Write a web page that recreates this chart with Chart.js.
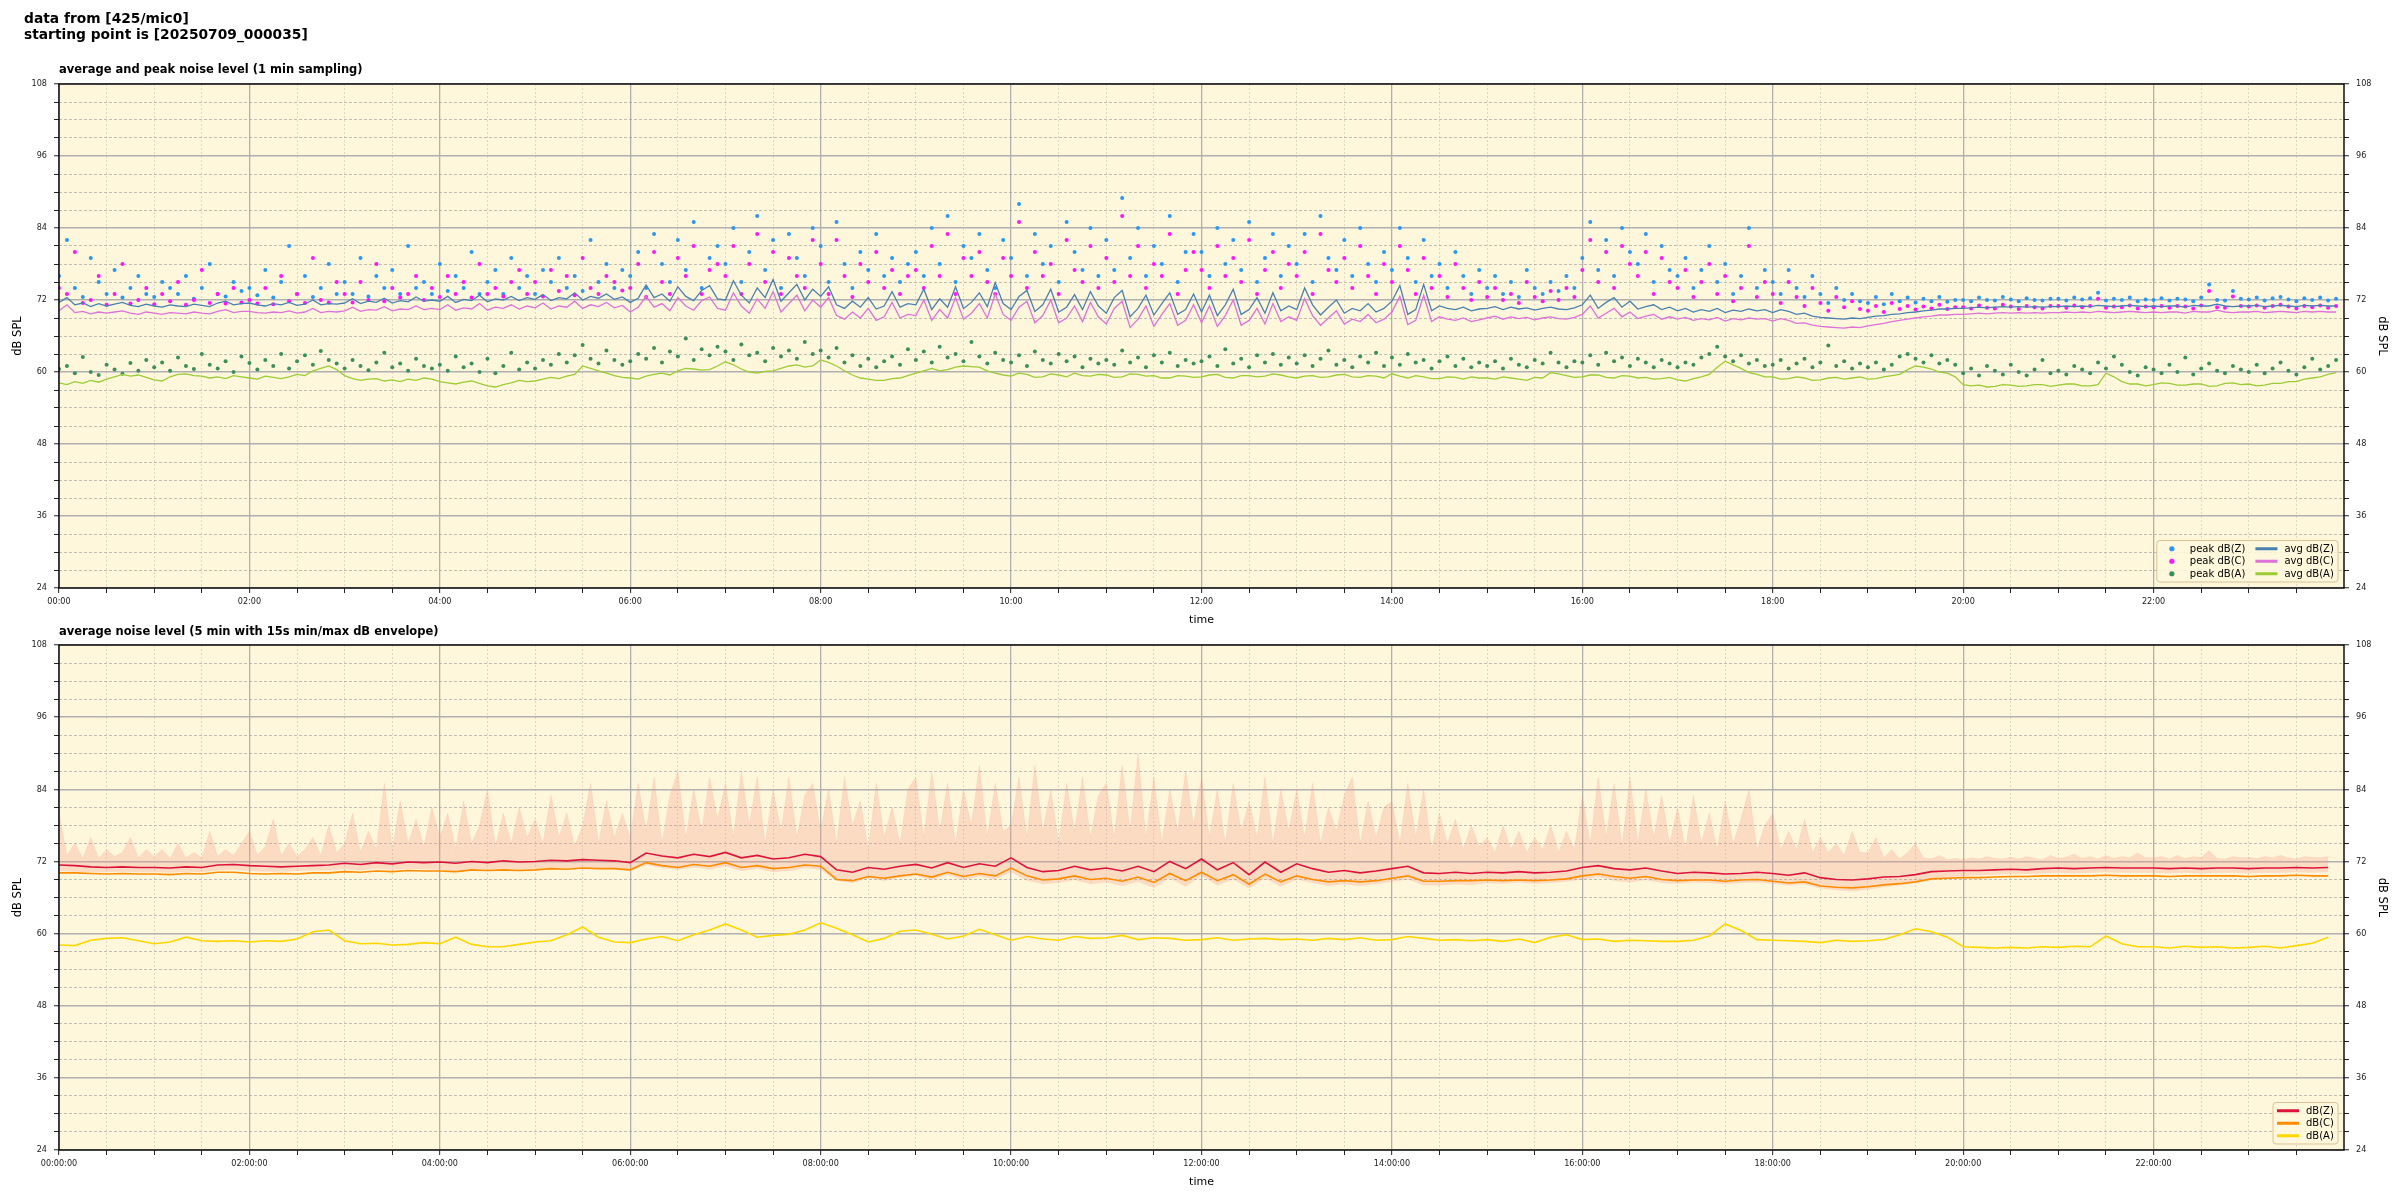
<!DOCTYPE html>
<html>
<head>
<meta charset="utf-8">
<script src="https://cdn.jsdelivr.net/npm/chart.js@4.4.1/dist/chart.umd.min.js"></script>
<style>
  body { margin: 0; width: 2400px; height: 1200px; background: #fff; position: relative; overflow: hidden; font-family: "DejaVu Sans", sans-serif; }
  .hdr { position: absolute; left: 24px; top: 10px; font-weight: bold; font-size: 13.8px; line-height: 16px; color: #000; }
  .ttl { position: absolute; left: 59px; font-weight: bold; font-size: 11.5px; color: #000; }
  .box { position: absolute; left: 0; width: 2400px; }
</style>
</head>
<body>
<div class="box" style="top:0;height:630px"><canvas id="top-chart"></canvas></div>
<div class="box" style="top:630px;height:562px"><canvas id="bottom-chart"></canvas></div>
<div class="hdr">data from [425/mic0]<br>starting point is [20250709_000035]</div>
<div class="ttl" style="top:62px">average and peak noise level (1 min sampling)</div>
<div class="ttl" style="top:624px">average noise level (5 min with 15s min/max dB envelope)</div>
<script>
// ---- data (one row = one hour) ----
// top panel, avg levels every 5 min
var avg_z = [
  71.6,72.4,71.2,71.5,70.9,71.4,71.0,71.3,71.6,71.1,70.9,71.3,
  71.0,70.8,71.2,71.0,70.9,71.3,71.1,70.9,71.5,71.8,71.2,71.4,
  71.5,71.2,71.0,71.4,71.2,71.6,71.1,71.3,72.0,71.2,71.4,71.3,
  71.5,72.2,71.4,71.8,71.6,72.3,71.5,71.9,71.7,72.5,71.8,72.0,
  71.8,72.6,71.6,72.1,71.9,72.8,71.7,72.2,72.0,72.6,71.9,72.4,
  72.1,72.9,71.9,72.4,72.2,73.2,72.0,72.6,72.3,73.0,72.1,72.5,
  71.6,72.3,74.5,72.4,73.0,71.8,74.2,72.6,71.9,73.6,74.4,72.2,
  72.0,75.2,72.8,71.5,74.0,72.4,75.4,71.8,73.2,74.6,72.0,73.8,
  72.6,74.2,71.2,70.6,71.8,70.8,72.4,70.5,71.0,73.4,70.8,71.4,
  71.2,73.8,70.4,72.2,70.8,74.2,70.6,71.6,73.2,70.9,74.9,71.4,
  70.4,72.6,73.6,70.1,71.2,73.8,70.0,70.8,72.9,70.4,73.4,71.0,
  69.8,72.4,73.6,69.2,70.6,72.8,69.5,71.4,73.2,69.6,70.4,73.0,
  70.0,72.8,69.4,71.2,73.8,69.6,70.4,72.4,69.8,73.2,70.2,71.0,
  70.4,74.0,71.2,69.5,70.8,72.0,69.8,70.6,70.2,71.4,70.0,70.6,
  71.8,74.4,69.6,70.4,74.6,70.2,71.0,70.6,70.4,70.8,70.2,70.5,
  70.6,70.9,70.4,70.8,70.5,70.7,70.3,70.6,70.8,70.5,70.4,70.7,
  71.2,72.8,70.6,71.6,72.4,70.8,71.8,70.5,70.9,71.2,70.4,70.8,
  70.2,70.6,70.0,70.4,70.1,70.6,69.9,70.3,70.1,70.5,70.2,70.4,
  69.9,70.4,70.1,69.6,69.8,69.3,69.1,69.0,68.9,68.8,69.0,68.9,
  69.1,69.3,69.4,69.6,69.7,69.9,70.0,70.2,70.3,70.5,70.5,70.6,
  70.6,70.7,70.8,70.7,70.8,70.9,70.8,70.9,70.8,70.9,70.8,70.9,
  70.9,71.0,70.9,71.0,70.9,71.1,71.0,70.9,71.0,71.1,71.0,70.9,
  71.0,70.9,71.0,71.0,70.8,71.1,71.0,71.0,71.3,71.0,70.9,71.0,
  71.0,71.1,70.9,71.0,71.1,71.0,70.9,71.1,71.0,71.1,71.0,71.0
];
var avg_c = [
  70.2,71.2,69.9,70.1,69.7,70.0,69.8,70.0,70.2,69.8,69.6,70.0,
  69.8,69.6,69.9,69.8,69.7,70.0,69.8,69.7,70.1,70.4,69.9,70.1,
  70.1,69.9,69.8,70.0,69.9,70.2,69.8,70.0,70.6,69.9,70.1,70.0,
  70.2,70.8,70.1,70.4,70.3,70.9,70.2,70.5,70.4,71.0,70.4,70.6,
  70.4,71.2,70.3,70.7,70.5,71.4,70.3,70.8,70.6,71.2,70.5,71.0,
  70.7,71.5,70.5,71.0,70.8,71.8,70.6,71.2,70.9,71.6,70.7,71.1,
  70.0,70.8,72.6,70.8,71.4,70.2,72.4,71.0,70.3,71.9,72.5,70.6,
  70.3,73.2,71.0,69.8,72.2,70.6,73.4,70.0,71.4,72.8,70.2,72.0,
  70.8,72.4,69.4,68.8,70.0,69.0,70.6,68.6,69.2,71.6,69.0,69.6,
  69.4,72.0,68.6,70.4,69.0,72.4,68.8,69.8,71.4,69.0,73.0,69.6,
  68.6,70.8,71.8,68.2,69.4,72.0,68.2,69.0,71.0,68.4,71.6,69.2,
  68.0,70.6,71.8,67.4,68.8,71.0,67.6,69.6,71.4,67.8,68.6,71.2,
  68.2,71.0,67.6,69.4,72.0,67.8,68.6,70.6,68.0,71.4,68.4,69.2,
  68.6,72.2,69.4,67.8,69.0,70.2,68.0,68.8,68.4,69.6,68.2,68.8,
  70.0,72.6,67.9,68.6,72.8,68.4,69.2,68.8,68.6,69.0,68.4,68.7,
  69.0,69.3,68.8,69.2,68.9,69.1,68.7,69.0,69.2,68.9,68.8,69.1,
  69.6,71.0,69.0,69.8,70.6,69.2,70.0,68.9,69.3,69.6,68.8,69.2,
  68.8,69.1,68.6,68.9,68.7,69.1,68.5,68.9,68.7,69.0,68.8,68.9,
  68.5,68.9,68.6,68.1,68.2,67.8,67.6,67.5,67.4,67.3,67.5,67.4,
  67.7,67.9,68.1,68.4,68.6,68.8,69.0,69.2,69.3,69.5,69.5,69.6,
  69.6,69.7,69.8,69.7,69.8,69.9,69.8,69.9,69.8,69.9,69.8,69.9,
  69.9,70.0,69.9,70.0,69.9,70.1,70.0,69.9,70.0,70.1,70.0,69.9,
  70.0,69.9,70.0,70.0,69.8,70.1,70.0,70.0,70.3,70.0,69.9,70.0,
  70.0,70.1,69.9,70.0,70.1,70.0,69.9,70.1,70.0,70.1,70.0,70.0
];
var avg_a = [
  58.2,57.9,58.4,58.1,58.6,58.3,58.8,59.2,59.6,59.3,59.5,59.1,
  58.7,58.5,59.2,59.6,59.7,59.4,59.3,59.0,59.2,58.9,59.4,59.2,
  59.0,58.8,59.3,59.1,58.9,59.2,59.6,59.4,60.2,60.6,61.0,60.4,
  59.4,58.9,58.6,58.8,58.9,58.5,58.7,58.4,58.8,58.6,59.0,58.8,
  58.4,58.2,58.0,58.3,58.5,58.1,57.7,57.5,57.9,58.2,58.6,58.4,
  58.5,58.8,59.1,58.9,59.3,59.6,61.0,60.6,60.2,59.8,59.4,59.1,
  59.0,58.8,59.3,59.6,59.8,59.5,60.2,60.6,60.5,60.3,60.4,61.0,
  61.7,61.2,60.5,60.0,59.8,60.1,60.2,60.6,61.0,61.2,60.8,61.0,
  62.0,61.6,61.0,60.2,59.5,59.0,58.8,58.6,58.6,58.9,59.0,59.4,
  59.8,60.2,60.6,60.2,60.4,60.8,61.0,60.9,60.8,60.2,59.8,59.5,
  59.3,59.8,59.6,59.1,59.2,59.7,59.5,59.2,59.8,59.4,59.3,59.6,
  59.5,59.1,59.2,59.7,59.6,59.3,59.4,59.0,59.0,59.4,59.3,59.1,
  59.2,59.5,59.6,59.1,59.0,59.4,59.4,59.2,59.3,59.7,59.5,59.2,
  59.0,59.3,59.4,59.1,59.2,59.5,59.6,59.2,59.1,59.4,59.3,59.0,
  59.7,59.3,59.0,59.4,59.2,58.9,58.9,59.2,59.1,58.8,59.2,59.0,
  59.0,58.8,59.2,59.0,58.8,58.6,59.1,59.0,59.9,59.7,59.4,59.1,
  59.2,59.5,59.5,59.1,59.0,59.4,59.3,59.0,59.1,58.8,58.9,59.1,
  58.7,58.5,58.9,59.2,59.6,60.8,61.8,61.2,60.6,59.9,59.6,59.2,
  59.2,58.8,58.9,59.2,59.0,58.6,58.7,59.0,59.1,58.8,59.0,59.2,
  58.8,58.9,59.2,59.4,59.6,60.4,61.0,60.8,60.5,60.0,59.8,59.2,
  57.9,57.7,57.8,57.5,57.6,57.9,57.8,57.6,57.7,57.9,57.9,57.6,
  57.8,58.0,58.0,57.7,57.7,57.9,59.8,59.2,58.4,58.0,58.0,57.7,
  57.9,58.2,58.1,57.8,57.8,58.0,58.0,57.6,57.7,58.1,58.2,57.9,
  58.0,57.7,57.8,58.1,58.1,58.4,58.4,58.8,59.0,59.2,59.6,59.9
];
// top panel, peak levels every 5 min
var peak_z = [
  76,82,74,72.5,79,75,73,77,72.4,74,76,73,  72.5,75,74,73,76,72.2,74,78,73,72.6,75,73.5,
  74,72.8,77,72.4,75,81,73,76,72.5,74,78,73, 75,73,79,72.6,76,74,77,73,81,74,75,73,
  78,73.5,76,74,80,73,75,77,73,79,74,76,     73,77,75,79,74,76,73.5,82,75,78,74,77,
  76,80,74,83,78,75,82,77,85,74,79,81,       78,84,75,80,86,77,82,74,83,79,76,84,
  81,75,85,78,74,80,77,83,76,79,75,78,       80,76,84,78,86,75,81,79,83,77,74,82,
  79,88,76,83,78,81,75,85,80,77,84,76,       82,77,89,79,84,76,81,78,86,75,80,83,
  80,76,84,78,82,77,85,75,79,83,76,81,       78,83,75,86,79,77,82,76,84,78,75,80,
  77,84,79,75,82,76,78,74,80,76,73,77,       74,76,73,75,72.5,77,74,73,75,73.5,76,74,
  79,85,77,82,76,84,80,78,83,75,81,77,       76,79,74,77,81,75,78,73,76,84,74,77,
  75,73,77,74,72.5,76,73,71.5,74,72,73,71.8, 71.5,72.5,71.3,73,71.8,72.4,71.6,72.2,71.8,72.5,71.7,72,
  72,71.8,72.4,72,71.9,72.5,72.1,71.8,72.3,72,71.9,72.2, 72.2,71.9,72.4,72.1,72.3,73.2,71.9,72.2,72,72.4,71.8,72.1,
  72,72.3,71.9,72.2,72.1,71.8,72.4,74.6,72,71.9,73.5,72.2, 72.1,72.4,71.9,72.3,72.5,72.1,71.8,72.3,72,72.4,71.9,72.2
];
var peak_c = [
  74,73,80,71.5,72,76,71.2,73,78,71.4,72,74,  71.3,73,71.8,75,71.2,72,77,71.5,73,71.4,74,71.6,
  72,71.4,74,71.3,76,71.8,73,71.5,79,72,71.6,75, 73,71.6,75,72,78,71.8,74,72.4,73,76,72,74,
  72.5,76,73,75,72.4,78,73,74,72.6,75,77,73, 75,72.6,77,73.5,76,72.8,79,74,73,76,75,73.6,
  74,78,72.5,80,75,73,79,76,81,73,77,78,     76,81,73,78,83,75,80,73,79,76,74,82,
  78,73,82,76,72.5,78,75,80,74,77,73,76,     77,74,81,76,83,73,79,76,80,75,73,79,
  76,85,74,80,76,78,73,82,77,75,81,74,       79,75,86,76,81,74,78,76,83,73,77,80,
  77,74,81,76,79,75,82,73,77,80,74,78,       76,80,73,83,77,75,79,74,81,76,73,78,
  75,81,77,73,79,74,76,72.5,78,74,72,75,     72.5,74,72,73,71.5,75,72.5,71.8,73.5,72,74,72.5,
  77,82,75,80,74,81,78,76,80,73,79,75,       74,77,72.5,75,78,73,76,71.8,74,81,72.5,75,
  73,71.5,75,72.5,71,74,71.5,70.2,72.5,70.8,71.8,70.5, 70.2,71,70,71.5,70.5,71,70.4,70.9,70.6,71.2,70.5,70.8,
  70.8,70.6,71.1,70.7,70.6,71.2,70.9,70.5,71,70.8,70.6,71, 71,70.7,71.1,70.8,71,72.2,70.7,70.9,70.8,71.1,70.6,70.9,
  70.8,71,70.7,71,70.9,70.6,71.1,73.5,70.8,70.7,72.6,71, 70.9,71.1,70.7,71,71.2,70.9,70.6,71,70.8,71.1,70.7,71
];
var peak_a = [
  60.5,61,59.8,62.5,60,59.5,61.2,60.4,59.7,61.5,60.2,62, 60.8,61.6,60.2,62.4,61,60.5,63,61.2,60.6,61.8,60,62.6,
  61.5,60.4,62,61,63,60.6,61.8,62.8,61.2,63.5,62,61.4,   60.6,62,61,60.3,61.6,63.2,60.8,61.4,60.2,62.2,61,60.6,
  61.2,60.2,62.6,60.8,61.4,60,62.2,59.8,61,63.2,60.4,61.6, 60.6,62,61.2,63,61.6,62.8,64.5,62.2,61.4,63.6,62,61.2,
  61.8,63,62.2,64,61.6,63.4,62.6,65.6,62,63.8,62.8,64.2, 63.4,62,64.6,62.8,63.2,61.8,64,62.6,63.6,62.2,65,63,
  63.6,62.4,64,61.6,62.8,61,62.2,60.8,61.8,62.6,61.2,63.8, 62,63.4,61.6,64.2,62.4,63,61.8,65,62.6,61.4,63.2,62,
  61.6,62.8,61,63.4,62,61.4,63,61.8,62.6,60.8,62.2,61.4, 62,61.2,63.6,61.6,62.4,60.8,62.8,61.6,63.2,61,62,61.4,
  61.8,62.6,61,63.8,61.4,62.2,60.8,62.8,61.6,63,61.2,62.4, 61.4,62.8,61,62.2,63.6,61.2,62,60.8,62.6,61.6,63.2,61,
  62.4,61.2,63,61.6,62,60.6,61.8,62.6,61,62.2,60.8,61.6, 61,61.8,60.6,62.2,61.2,60.8,62,61.4,63.2,61.6,60.8,61.8,
  61.6,62.8,61.2,63.2,61.8,62.4,61,62.2,61.6,60.8,62,61.4, 60.8,61.6,61.2,62.4,63,64.2,62.6,61.8,62.8,61.4,62,61,
  61.2,62,60.6,61.4,62.2,60.8,61.6,64.4,61,61.8,60.6,61.4, 60.8,61.6,60.4,61.2,62.6,63,62.2,61.6,62.8,61.4,62,61.2,
  59.8,60.6,59.4,61,60.2,59.6,61.2,60,59.4,60.4,62,59.8, 60.2,59.6,61,60.4,59.8,61.6,60.6,62.6,61.2,60,59.4,60.8,
  60.4,59.8,61.2,60,62.4,59.6,60.6,61.4,60.2,59.8,61,60.4, 60,61.2,59.8,60.6,61.6,60.2,59.6,60.8,62.2,60.4,61,62
];
// bottom panel, 5 min averages sampled every 10 min
var lvl_z = [
  71.4,71.3,71.1,71.0,71.1,71.0, 71.0,70.9,71.1,71.0,71.4,71.5, 71.3,71.2,71.1,71.2,71.3,71.4,
  71.7,71.5,71.8,71.6,71.9,71.8, 71.9,71.7,72.0,71.8,72.1,71.9, 72.0,72.2,72.1,72.3,72.2,72.1,
  71.8,73.4,72.9,72.6,73.2,72.8, 73.5,72.6,73.0,72.4,72.6,73.2, 72.8,70.6,70.2,71.0,70.7,71.2,
  71.5,70.9,71.8,71.0,71.6,71.2, 72.6,71.0,70.3,70.5,71.2,70.6, 70.9,70.4,71.2,70.3,72.0,70.8,
  72.4,70.6,71.8,69.8,71.9,70.2, 71.6,70.8,70.2,70.5,70.1,70.4, 70.8,71.2,70.1,70.0,70.2,70.0,
  70.2,70.1,70.3,70.1,70.2,70.4, 71.0,71.3,70.8,70.6,70.9,70.4, 70.0,70.2,70.1,69.9,70.0,70.2,
  70.0,69.7,70.1,69.3,69.0,68.9, 69.1,69.4,69.5,69.8,70.3,70.4, 70.5,70.5,70.6,70.7,70.6,70.8,
  70.9,70.8,70.9,71.0,70.9,70.9, 70.9,70.8,70.9,70.8,70.9,70.9, 70.8,70.9,70.9,71.0,70.9,71.0
];
var lvl_c = [
  70.1,70.1,70.0,69.9,70.0,69.9, 69.9,69.8,70.0,69.9,70.2,70.2, 70.0,69.9,70.0,69.9,70.1,70.1,
  70.3,70.2,70.4,70.3,70.5,70.4, 70.4,70.3,70.6,70.5,70.6,70.5, 70.6,70.8,70.7,70.9,70.8,70.8,
  70.6,71.8,71.3,71.0,71.5,71.2, 71.8,71.0,71.3,70.8,71.0,71.4, 71.2,69.0,68.8,69.5,69.2,69.6,
  69.9,69.4,70.2,69.5,70.0,69.6, 70.9,69.6,68.9,69.1,69.6,69.0, 69.2,68.7,69.4,68.5,70.0,68.8,
  70.2,68.8,69.8,68.2,69.9,68.6, 69.6,69.0,68.6,68.8,68.6,68.8, 69.2,69.6,68.7,68.7,68.8,68.8,
  68.9,68.8,68.9,68.8,68.9,69.1, 69.6,69.9,69.5,69.2,69.5,69.0, 68.8,68.9,68.9,68.7,68.9,69.0,
  68.7,68.4,68.6,67.9,67.7,67.6, 67.8,68.1,68.3,68.6,69.1,69.2, 69.3,69.3,69.4,69.5,69.5,69.6,
  69.6,69.6,69.6,69.7,69.6,69.6, 69.6,69.5,69.6,69.6,69.6,69.6, 69.5,69.6,69.6,69.7,69.6,69.6
];
var lvl_a = [
  58.1,58.0,58.9,59.2,59.3,58.8, 58.3,58.6,59.4,58.8,58.7,58.8, 58.6,58.8,58.7,59.1,60.3,60.6,
  58.8,58.3,58.4,58.1,58.2,58.5, 58.3,59.4,58.2,57.8,57.8,58.2, 58.6,58.8,59.8,61.1,59.4,58.6,
  58.5,59.1,59.5,58.8,59.8,60.6, 61.6,60.6,59.4,59.7,59.9,60.6, 61.8,60.9,59.8,58.6,59.2,60.4,
  60.6,59.9,59.1,59.6,60.7,59.8, 58.9,59.5,59.1,58.9,59.5,59.2, 59.3,59.7,59.0,59.3,59.2,58.9,
  59.0,59.3,58.9,59.1,59.2,59.0, 59.1,58.9,59.2,59.0,59.3,58.9, 59.0,59.5,59.2,58.9,59.0,58.8,
  59.0,58.7,59.1,58.5,59.4,59.8, 59.0,59.1,58.7,58.9,58.8,58.7, 58.7,58.9,59.6,61.6,60.5,59.0,
  58.9,58.8,58.7,58.5,58.9,58.7, 58.8,59.0,59.8,60.8,60.3,59.4, 57.8,57.7,57.6,57.7,57.6,57.8,
  57.7,57.9,57.8,59.6,58.3,57.8, 57.8,57.6,57.9,57.7,57.8,57.6, 57.7,57.9,57.6,58.0,58.4,59.4
];
// 15 s min/max envelope: max every 5 min, min every 10 min
var env_max = [
  80,73,75,72.5,76,72.5,74,72.8,73.5,76,72.6,74, 72.8,74,72.5,75,72.6,73.5,72.6,77,72.8,74,73,75,
  77,73,74.5,79,73,75,72.8,74,76,73,78,73.5,   75,80,73.5,77,74,85,74,82,75,79,74.5,81,
  76,80,74,82,75,78,84,74.5,80,75,81,76,       79,75,83,76,80,74.5,78,85,75,82,76,80,
  76,85,77,86,75,83,87,76,84,77,86,79,         85,76,87,78,86,75,84,77,86,76,83,85,
  77,84,75,86,78,82,74,85,76,81,75,84,         86,76,87,77,85,75,84,78,88,76,85,77,
  78,86,76,88,77,84,75,85,77,86,76,83,         85,76,88,77,90,76,86,75,84,77,87,78,
  86,76,84,75,85,77,82,76,86,75,84,77,         84,76,85,75,81,77,83,86,75,82,76,81,
  82,75,85,76,84,74,80,75,79,74,78,74.5,       76,73.5,78,74,77,73.5,76,74,78,73.5,77,74,
  83,75,86,76,85,74.5,86,75,84,76,83,75,       81,74,83,75,80,74,82,75,79,84,74,78,
  80,74,77,74,79,73.5,76,73.5,75,73,77,73.5,   73.5,76,72.6,74,72.4,73.5,75,72.6,72.4,73,72.3,72.5,
  72.3,72.6,72.4,72.8,72.5,72.4,72.7,72.4,72.8,72.5,72.3,73, 72.5,72.7,73.2,72.5,72.8,72.4,73,72.5,72.8,72.6,73.4,72.6,
  72.6,72.8,72.4,73,72.5,72.8,72.6,73.8,72.5,72.4,72.8,72.6, 72.7,72.5,72.8,72.6,73,72.6,72.4,72.8,72.7,72.6,72.8,72.5
];
var env_min = [
  70.4,70.3,70.2,70.2,70.3,70.2, 70.2,70.1,70.3,70.2,70.5,70.6, 70.4,70.3,70.3,70.4,70.5,70.5,
  70.7,70.5,70.8,70.6,70.8,70.7, 70.6,70.5,70.8,70.6,70.8,70.6, 70.8,70.9,70.8,71.0,70.9,70.8,
  70.4,71.4,70.9,70.6,71.0,70.7, 71.2,70.4,70.8,70.2,70.4,70.9, 70.6,68.8,68.4,69.2,68.8,69.3,
  69.6,68.9,69.8,68.9,69.5,69.0, 70.2,68.8,68.2,68.4,68.9,68.2, 68.5,67.9,68.6,67.6,69.2,67.8,
  69.6,68.0,69.0,67.5,69.2,67.8, 69.0,68.4,67.9,68.2,67.9,68.2, 68.6,69.0,68.0,68.0,68.2,68.1,
  68.4,68.3,68.5,68.3,68.4,68.6, 69.0,69.4,68.8,68.5,68.9,68.4, 68.3,68.5,68.4,68.2,68.4,68.5,
  68.3,68.0,68.2,67.5,67.2,67.0, 67.3,67.7,68.0,68.4,69.0,69.3, 69.6,69.7,69.8,69.9,69.9,70.0,
  70.1,70.0,70.1,70.2,70.1,70.1, 70.1,70.0,70.1,70.0,70.1,70.1, 70.0,70.1,70.1,70.2,70.1,70.2
];
var y_min = 24, y_max = 108, y_step = 3, y_label_step = 12;
var x_step = 30, x_label_step = 120; // minutes

// ---- helpers ----
function pts(values, step_min)
{
  return values.map((v, i) => ({x: i * step_min, y: v}));
}
function hhmm(v) { var h = Math.floor(v / 60), m = v % 60; return String(h).padStart(2, '0') + ':' + String(m).padStart(2, '0'); }
function hhmmss(v) { return hhmm(v) + ':00'; }

var MAJOR = '#b0b0b0';
var MINOR_H = 'rgba(150,150,150,0.75)';
var MINOR_V = 'rgba(180,175,165,0.55)';
var TICK_FONT = {family: 'DejaVu Sans Condensed', size: 9};

function isMajorX(c) { return c.tick && c.tick.value % x_label_step === 0; }
function isMajorY(c) { return c.tick && (c.tick.value - y_min) % y_label_step === 0; }

function xScale(fmt)
{
  return {
    type: 'linear', min: 0, max: 1440,
    afterBuildTicks: s => { var t = []; for (var v = 0; v < 1440; v += x_step) t.push({value: v}); s.ticks = t; },
    afterFit: s => { s.height = 42; },
    ticks: {autoSkip: false, maxRotation: 0, padding: 3, color: '#222', font: TICK_FONT,
            callback: v => v % x_label_step === 0 ? fmt(v) : ''},
    grid: {color: c => isMajorX(c) ? MAJOR : MINOR_V, lineWidth: c => isMajorX(c) ? 1.3 : 0.8,
           tickColor: '#222', tickLength: 5, tickWidth: 1, tickBorderDash: []},
    border: {display: false, dash: c => (c.tick && !isMajorX(c)) ? [2, 2] : []},
    title: {display: true, text: 'time', color: '#000', font: {family: 'DejaVu Sans', size: 11}, padding: {top: 0, bottom: 3}}
  };
}
function yScale(pos)
{
  return {
    type: 'linear', position: pos, min: y_min, max: y_max,
    afterBuildTicks: s => { var t = []; for (var v = y_min; v <= y_max; v += y_step) t.push({value: v}); s.ticks = t; },
    afterFit: s => { s.width = pos === 'left' ? 59 : 56; },
    ticks: {autoSkip: false, padding: 7, color: '#222', font: TICK_FONT,
            callback: v => (v - y_min) % y_label_step === 0 ? String(v) : ''},
    grid: {drawOnChartArea: pos === 'left', color: c => isMajorY(c) ? MAJOR : MINOR_H,
           lineWidth: c => isMajorY(c) ? 1.5 : 0.8, tickColor: '#222', tickLength: 5, tickWidth: 1, tickBorderDash: []},
    border: {display: false, dash: c => (c.tick && !isMajorY(c)) ? [3, 2] : []},
    title: {display: true, text: 'dB SPL', color: '#000', font: {family: 'DejaVu Sans', size: 11.5}, padding: {top: 11, bottom: 0}}
  };
}

// plot background, frame and a matplotlib-like legend inside the plot
function drawLegend(chart, cols)
{
  var items = chart.data.datasets.filter(d => !d.noLegend);
  var c = chart.ctx, a = chart.chartArea;
  var rows = Math.ceil(items.length / cols);
  var rowH = 12.5, pad = 4, hl = 22, gap = 7, colGap = 10;
  c.save();
  c.font = '10px "DejaVu Sans"';
  var colW = [];
  for (var k = 0; k < cols; k++) {
    var w = 0;
    for (var r = 0; r < rows; r++) { var d = items[k * rows + r]; if (d) w = Math.max(w, c.measureText(d.label).width); }
    colW.push(hl + gap + w);
  }
  var W = pad * 2 + colW.reduce((s, v) => s + v, 0) + colGap * (cols - 1);
  var H = rows * rowH + 4;
  var x0 = a.right - 6 - W, y0 = a.bottom - 6 - H;
  c.beginPath();
  c.roundRect(x0, y0, W, H, 3);
  c.fillStyle = 'rgba(255,248,220,0.85)';
  c.fill();
  c.strokeStyle = '#dcc197';
  c.lineWidth = 1;
  c.stroke();
  var cx = x0 + pad;
  for (var k = 0; k < cols; k++) {
    for (var r = 0; r < rows; r++) {
      var d = items[k * rows + r];
      if (!d) continue;
      var y = y0 + 2 + rowH * r + rowH / 2;
      if (d.showLine === false) {
        c.beginPath(); c.arc(cx + hl / 2, y, 2.6, 0, Math.PI * 2);
        c.fillStyle = d.backgroundColor; c.fill();
      } else {
        c.beginPath(); c.moveTo(cx, y); c.lineTo(cx + hl, y);
        c.strokeStyle = d.borderColor; c.lineWidth = 3; c.stroke();
      }
      c.fillStyle = '#000'; c.textBaseline = 'middle'; c.textAlign = 'left';
      c.fillText(d.label, cx + hl + gap, y + 0.5);
    }
    cx += colW[k] + colGap;
  }
  c.restore();
}
var framePlugin = {
  id: 'frame',
  beforeDraw(chart) {
    var a = chart.chartArea, c = chart.ctx;
    c.save(); c.fillStyle = '#fff7dc'; c.fillRect(a.left, a.top, a.width, a.height); c.restore();
  },
  afterDraw(chart, args, opts) {
    var a = chart.chartArea, c = chart.ctx;
    c.save(); c.strokeStyle = '#000'; c.lineWidth = 1.4;
    c.strokeRect(a.left, a.top, a.width, a.height); c.restore();
    drawLegend(chart, opts.cols || 1);
  }
};

function scatterSet(label, values, color, order)
{
  return {label: label, data: pts(values, 5), showLine: false, pointRadius: 2, pointHoverRadius: 0,
          pointBorderWidth: 0, backgroundColor: color, borderColor: color, order: order};
}
function lineSet(label, values, step, color, width, order)
{
  return {label: label, data: pts(values, step), pointRadius: 0, borderWidth: width,
          borderColor: color, backgroundColor: color, fill: false, order: order};
}

var common = {
  animation: false, responsive: true, maintainAspectRatio: false,
  parsing: false, normalized: true,
  plugins: {legend: {display: false}, tooltip: {enabled: false}},
  events: []
};

var top_chart = new Chart(document.getElementById('top-chart'), {
  type: 'line',
  data: {datasets: [
    scatterSet('peak dB(Z)', peak_z, '#2a96f5', 6),
    scatterSet('peak dB(C)', peak_c, '#ff14ff', 5),
    scatterSet('peak dB(A)', peak_a, '#3a8f5c', 4),
    lineSet('avg dB(Z)', avg_z, 5, '#4a80b0', 1.3, 2),
    lineSet('avg dB(C)', avg_c, 5, '#dd72d8', 1.3, 3),
    lineSet('avg dB(A)', avg_a, 5, '#9ccc35', 1.3, 1)
  ]},
  options: Object.assign({}, common, {
    layout: {padding: {top: 84, left: 0, right: 0, bottom: 0}},
    scales: {x: xScale(hhmm), y: yScale('left'), y2: yScale('right')},
    plugins: Object.assign({}, common.plugins, {frame: {cols: 2}})
  }),
  plugins: [framePlugin]
});

var bottom_chart = new Chart(document.getElementById('bottom-chart'), {
  type: 'line',
  data: {datasets: [
    {label: 'env min', noLegend: true, data: pts(env_min, 10), pointRadius: 0, borderWidth: 0, fill: false, order: 8},
    {label: 'env max', noLegend: true, data: pts(env_max, 5), pointRadius: 0, borderWidth: 0.6,
     borderColor: 'rgba(240,160,140,0.28)', backgroundColor: 'rgba(240,150,130,0.28)', fill: {target: 0}, order: 7},
    lineSet('dB(Z)', lvl_z, 10, '#dc143c', 1.6, 1),
    lineSet('dB(C)', lvl_c, 10, '#ff8c00', 1.6, 2),
    lineSet('dB(A)', lvl_a, 10, '#ffd700', 1.6, 3)
  ]},
  options: Object.assign({}, common, {
    layout: {padding: {top: 15, left: 0, right: 0, bottom: 0}},
    scales: {x: xScale(hhmmss), y: yScale('left'), y2: yScale('right')},
    plugins: Object.assign({}, common.plugins, {frame: {cols: 1}})
  }),
  plugins: [framePlugin]
});
</script>
</body>
</html>
